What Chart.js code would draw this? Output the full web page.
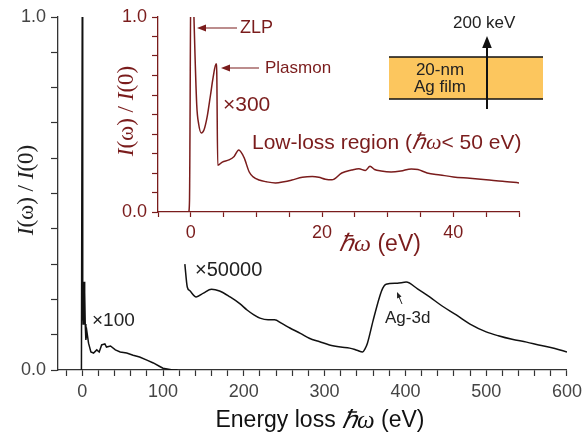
<!DOCTYPE html>
<html>
<head>
<meta charset="utf-8">
<script src="https://cdn.jsdelivr.net/npm/chart.js@4.4.1/dist/chart.umd.min.js"></script>
<style>
  html, body { margin: 0; padding: 0; background: #fff; }
  #wrap { position: relative; width: 587px; height: 437px; }
  #main { position: absolute; left: 0; top: 0; }
  #inset { position: absolute; left: 100px; top: 0; }
</style>
</head>
<body>
<div id="wrap">
  <canvas id="main" width="587" height="437"></canvas>
  <canvas id="inset" width="440" height="260"></canvas>
</div>
<script>
// main spectrum: zero-loss peak + x100 low-loss part
const lowX = [-1, -0.3, 0, 0.4, 0.8, 1.2, 1.6, 2.0, 2.5, 2.8, 3.2, 3.7, 4.5, 5.8, 7.8, 10.7, 14, 18, 21, 24, 28, 30, 35, 41, 47, 55, 63, 71, 80, 88, 96, 100, 112, 118];
const lowY = [0, 0, 1.0, 0.14, 0.22, 0.13, 0.21, 0.15, 0.25, 0.14, 0.22, 0.13, 0.085, 0.108, 0.076, 0.051, 0.048, 0.057, 0.051, 0.071, 0.074, 0.065, 0.068, 0.057, 0.051, 0.048, 0.042, 0.037, 0.028, 0.02, 0.01, 0.005, 0, 0];

// x50000 core-loss part with the Ag-3d edge
const coreX = [127, 130, 133, 141, 150, 160, 170, 183, 195, 204, 212, 220, 230, 238, 247, 257, 270, 281, 294, 306, 320, 331, 340, 347, 350, 353, 360, 368, 372, 376, 390, 401, 415, 430, 445, 463, 480, 500, 515, 532, 550, 565, 585, 600];
const coreY = [0.30, 0.235, 0.225, 0.207, 0.218, 0.229, 0.224, 0.207, 0.188, 0.17, 0.157, 0.147, 0.142, 0.142, 0.132, 0.119, 0.104, 0.09, 0.08, 0.071, 0.065, 0.062, 0.056, 0.051, 0.06, 0.076, 0.14, 0.207, 0.232, 0.243, 0.246, 0.249, 0.23, 0.207, 0.182, 0.156, 0.13, 0.108, 0.097, 0.087, 0.079, 0.071, 0.061, 0.051];

// inset: low-loss region (< 50 eV)
const insetX = [-0.3, -0.2, 0.05, 0.2, 0.9, 1.2, 1.6, 2.0, 2.5, 3.0, 3.4, 3.85, 3.95, 4.1, 4.8, 5.8, 6.6, 7.3, 8.1, 8.9, 9.5, 10.4, 11.5, 12.9, 14.2, 15.4, 17, 18.5, 19.5, 20.5, 21.5, 23, 24.5, 25.6, 26.6, 27.3, 28, 29, 30.5, 32, 33.6, 34.6, 36, 38, 40, 42.5, 45, 47.5, 50];
const insetY = [0, 0.06, 1.4, 1.3, 0.55, 0.45, 0.405, 0.42, 0.49, 0.6, 0.69, 0.76, 0.72, 0.24, 0.256, 0.267, 0.285, 0.318, 0.28, 0.205, 0.18, 0.164, 0.155, 0.149, 0.155, 0.164, 0.178, 0.182, 0.178, 0.168, 0.165, 0.2, 0.215, 0.222, 0.213, 0.235, 0.218, 0.21, 0.205, 0.21, 0.221, 0.218, 0.2, 0.19, 0.18, 0.173, 0.165, 0.158, 0.149];

const SANS = '"Liberation Sans", Arial, sans-serif';
const SERIF = '"Liberation Serif", "Times New Roman", serif';
const RED = '#7a1c1c';
const INK = '#222';

const pts = (xs, ys) => xs.map((x, i) => ({ x: x, y: ys[i] }));

function runs(ctx, parts, x, y, align, color) {
  let w = 0;
  parts.forEach(p => { ctx.font = p[1]; w += ctx.measureText(p[0]).width; });
  let cx = align === 'center' ? x - w / 2 : x;
  ctx.fillStyle = color;
  ctx.textAlign = 'left';
  ctx.textBaseline = 'middle';
  parts.forEach(p => {
    ctx.font = p[1];
    ctx.fillText(p[0], cx, y);
    cx += ctx.measureText(p[0]).width;
  });
}

function arrow(ctx, x1, y1, x2, y2, color, head, width) {
  const a = Math.atan2(y2 - y1, x2 - x1);
  ctx.strokeStyle = color;
  ctx.fillStyle = color;
  ctx.lineWidth = width;
  ctx.beginPath();
  ctx.moveTo(x1, y1);
  ctx.lineTo(x2 - Math.cos(a) * head * 0.6, y2 - Math.sin(a) * head * 0.6);
  ctx.stroke();
  ctx.beginPath();
  ctx.moveTo(x2, y2);
  ctx.lineTo(x2 - head * Math.cos(a) + head * 0.4 * Math.sin(a), y2 - head * Math.sin(a) - head * 0.4 * Math.cos(a));
  ctx.lineTo(x2 - head * Math.cos(a) - head * 0.4 * Math.sin(a), y2 - head * Math.sin(a) + head * 0.4 * Math.cos(a));
  ctx.closePath();
  ctx.fill();
}

const decor = {
  id: 'decor',
  afterDraw(chart) {
    const ctx = chart.ctx;
    ctx.save();

    // axis titles
    ctx.save();
    ctx.translate(27, 190);
    ctx.rotate(-Math.PI / 2);
    runs(ctx, [['I', 'italic 23px ' + SERIF], ['(\u03c9) / ', '23px ' + SERIF], ['I', 'italic 23px ' + SERIF], ['(0)', '23px ' + SERIF]], 0, 0, 'center', INK);
    ctx.restore();
    runs(ctx, [['Energy loss ', '23px ' + SANS], ['\u210f\u03c9', 'italic 25px ' + SERIF], [' (eV)', '23px ' + SANS]], 320, 421, 'center', '#111');

    ctx.save();
    ctx.translate(127, 111);
    ctx.rotate(-Math.PI / 2);
    runs(ctx, [['I', 'italic 23px ' + SERIF], ['(\u03c9) / ', '23px ' + SERIF], ['I', 'italic 23px ' + SERIF], ['(0)', '23px ' + SERIF]], 0, 0, 'center', RED);
    ctx.restore();
    runs(ctx, [['\u210f\u03c9', 'italic 24px ' + SERIF], [' (eV)', '23px ' + SANS]], 380, 245, 'center', RED);

    // main plot labels
    runs(ctx, [['\u00d7100', '19px ' + SANS]], 92, 321, 'left', INK);
    runs(ctx, [['\u00d750000', '20px ' + SANS]], 195, 270, 'left', INK);
    runs(ctx, [['Ag-3d', '17px ' + SANS]], 385, 318, 'left', INK);
    arrow(ctx, 402, 304, 397, 292, INK, 6, 1);

    // inset labels
    runs(ctx, [['ZLP', '18px ' + SANS]], 240, 28, 'left', RED);
    arrow(ctx, 237, 28, 197, 28, RED, 9, 1.2);
    runs(ctx, [['Plasmon', '17px ' + SANS]], 265, 68, 'left', RED);
    arrow(ctx, 259, 68, 221, 68, RED, 9, 1.2);
    runs(ctx, [['\u00d7300', '21px ' + SANS]], 223, 105, 'left', RED);
    runs(ctx, [['Low-loss region (', '21px ' + SANS], ['\u210f\u03c9', 'italic 22px ' + SERIF], ['< 50 eV)', '21px ' + SANS]], 252, 143, 'left', RED);

    // film sketch
    ctx.fillStyle = '#fcc65e';
    ctx.fillRect(389, 57, 154, 42);
    ctx.strokeStyle = '#111';
    ctx.lineWidth = 1.5;
    ctx.beginPath();
    ctx.moveTo(389, 57); ctx.lineTo(543, 57);
    ctx.moveTo(389, 99); ctx.lineTo(543, 99);
    ctx.stroke();
    runs(ctx, [['20-nm', '17px ' + SANS]], 440, 70, 'center', INK);
    runs(ctx, [['Ag film', '17px ' + SANS]], 440, 87, 'center', INK);
    arrow(ctx, 487, 109, 487, 36, '#111', 12, 2);
    runs(ctx, [['200 keV', '17px ' + SANS]], 453, 23, 'left', INK);

    ctx.restore();
  }
};

function axisOpts(min, max, step, color, labelColor, tickLen, showLabel, fmt, fit) {
  return {
    type: 'linear', min: min, max: max,
    afterFit: fit,
    ticks: {
      stepSize: step, autoSkip: false, includeBounds: false, maxRotation: 0,
      color: labelColor, font: { family: SANS, size: 18 }, padding: 5,
      callback: v => (showLabel(v) ? fmt(v) : '')
    },
    grid: { drawOnChartArea: false, tickLength: tickLen, color: color, tickColor: color, tickWidth: 1.2 },
    border: { color: color, width: 1.3 }
  };
}

const near = (a, b) => Math.abs(a - b) < 1e-6;

new Chart(document.getElementById('main'), {
  type: 'line',
  data: {
    datasets: [
      { data: pts(lowX, lowY), borderColor: '#111', borderWidth: 1.5, pointRadius: 0, tension: 0 },
      { data: pts(coreX, coreY), borderColor: '#111', borderWidth: 1.5, pointRadius: 0, cubicInterpolationMode: 'monotone' }
    ]
  },
  options: {
    responsive: false, animation: false, events: [],
    layout: { padding: { top: 17, right: 19, left: 0, bottom: 0 } },
    plugins: { legend: { display: false }, tooltip: { enabled: false } },
    scales: {
      x: axisOpts(-30, 600, 20, '#333', '#444', 6, v => v >= 0 && near(v % 100, 0), v => String(Math.round(v)), s => { s.height = 67; }),
      y: axisOpts(0, 1, 0.1, '#333', '#444', 7, v => near(v, 0) || near(v, 1), v => v.toFixed(1), s => { s.width = 58; })
    }
  },
  plugins: [decor]
});

new Chart(document.getElementById('inset'), {
  type: 'line',
  data: {
    datasets: [
      { data: pts(insetX, insetY), borderColor: RED, borderWidth: 1.5, pointRadius: 0, cubicInterpolationMode: 'monotone' }
    ]
  },
  options: {
    responsive: false, animation: false, events: [],
    layout: { padding: { top: 17, right: 21, left: 0, bottom: 0 } },
    plugins: { legend: { display: false }, tooltip: { enabled: false } },
    scales: {
      x: axisOpts(-5, 50, 5, RED, RED, 5, v => v >= 0 && near(v % 20, 0), v => String(Math.round(v)), s => { s.height = 48; }),
      y: axisOpts(0, 1, 0.1, RED, RED, 6, v => near(v, 0) || near(v, 1), v => v.toFixed(1), s => { s.width = 58; })
    }
  }
});
</script>
</body>
</html>
